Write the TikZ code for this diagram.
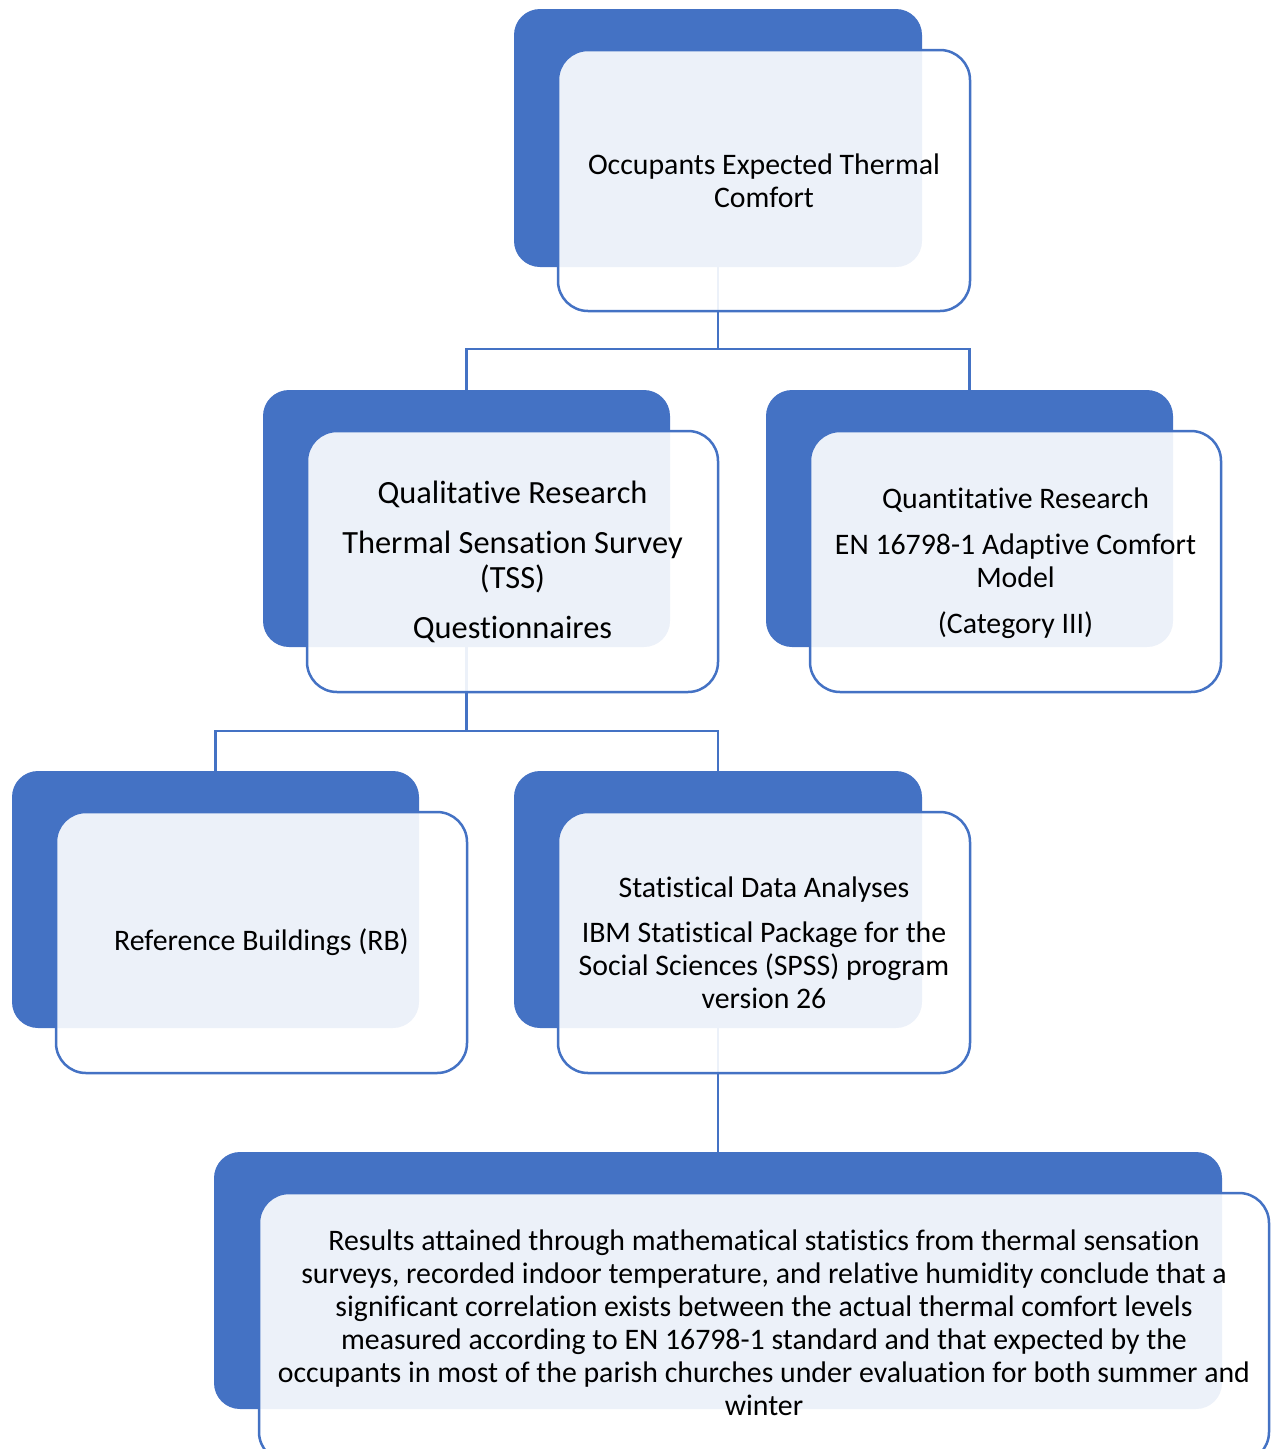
\documentclass[tikz,border=0pt]{standalone}
\usepackage{fontspec}
\setmainfont{Carlito}[Ligatures=NoCommon]
\definecolor{sablue}{HTML}{4472C4}
\tikzset{
  backbox/.style={draw=none, fill=sablue, rounded corners=26pt, inner sep=0pt},
  frontbox/.style={draw=sablue, line width=2.5pt, fill=white, fill opacity=0.9, text opacity=1,
    rounded corners=30pt, inner sep=0pt, align=center, text=black},
  txt/.style={inner sep=0pt, align=center, text=black},
  conn/.style={draw=sablue, line width=2.5pt},
  fs/.style={font=\fontsize{29.8}{33}\selectfont},
  fsl/.style={font=\fontsize{32.4}{35}\selectfont},
}
\begin{document}
\begin{tikzpicture}[x=1pt,y=-1pt]
\useasboundingbox (0,0) rectangle (1271,1449);
% back boxes
\node[backbox, minimum width=408pt, minimum height=258pt] (b1) at (718,138) {};
\node[backbox, minimum width=407pt, minimum height=257pt] (b2) at (466.5,518.5) {};
\node[backbox, minimum width=407pt, minimum height=257pt] (b3) at (969.5,518.5) {};
\node[backbox, minimum width=407pt, minimum height=257pt] (b4) at (215.5,899.5) {};
\node[backbox, minimum width=408pt, minimum height=257pt] (b5) at (718,899.5) {};
\node[backbox, minimum width=1008pt, minimum height=257pt] (b6) at (718,1280.5) {};
% connectors
\coordinate (j1) at (718,349);
\coordinate (j2) at (466.5,731);
\draw[conn] (b1.south) -- (j1) -| (b2.north);
\draw[conn] (j1) -| (b3.north);
\draw[conn] (b2.south) -- (j2) -| (b4.north);
\draw[conn] (j2) -| (b5.north);
\draw[conn] (b5.south) -- (b6.north);
% front boxes
\node[frontbox, fs, minimum width=412pt, minimum height=261pt] (f1) at (764,180.5)
  {Occupants Expected Thermal\\Comfort};
\node[frontbox, fsl, minimum width=411pt, minimum height=261pt] (f2) at (512.5,561.5)
  {Qualitative Research\\[15pt]Thermal Sensation Survey\\(TSS)\\[15pt]Questionnaires};
\node[frontbox, fs, minimum width=411pt, minimum height=261pt] (f3) at (1015.5,561.5) {};
\node[txt, fs] (t3) at (1015.5,563.5)
  {Quantitative Research\\[13pt]EN 16798-1 Adaptive Comfort\\Model\\[13pt](Category III)};
\node[frontbox, fs, minimum width=411pt, minimum height=261pt] (f4) at (261.5,942.5)
  {Reference Buildings (RB)};
\node[frontbox, fs, minimum width=412pt, minimum height=261pt] (f5) at (764,942.5)
  {Statistical Data Analyses\\[12pt]IBM Statistical Package for the\\Social Sciences (SPSS) program\\version 26};
\node[frontbox, minimum width=1010pt, minimum height=269pt] (f6) at (764,1327.5) {};
\node[txt, fs] (t6) at (764,1323)
  {Results attained through mathematical statistics from thermal sensation\\
   surveys, recorded indoor temperature, and relative humidity conclude that a\\
   significant correlation exists between the actual thermal comfort levels\\
   measured according to EN 16798-1 standard and that expected by the\\
   occupants in most of the parish churches under evaluation for both summer and\\
   winter};
\end{tikzpicture}
\end{document}
